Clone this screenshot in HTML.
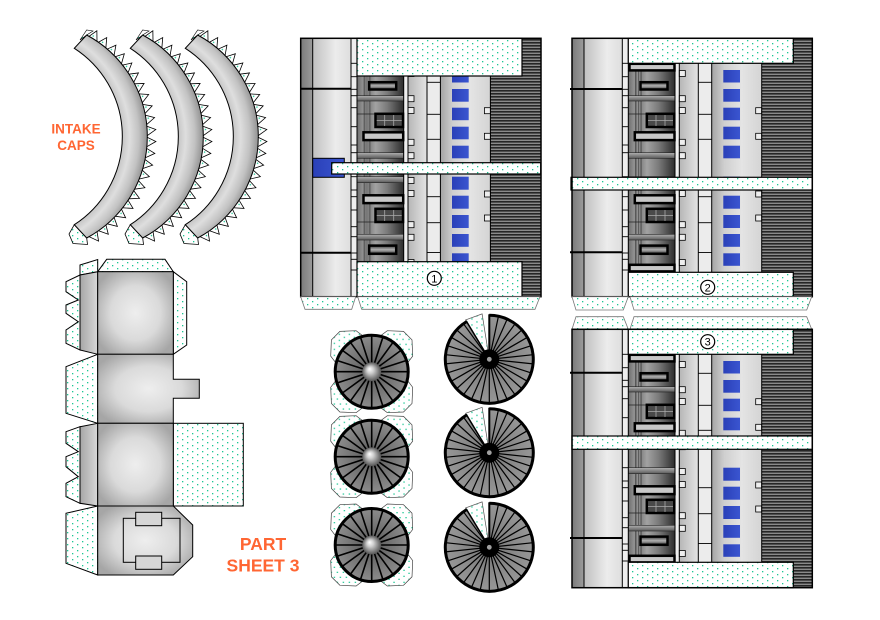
<!DOCTYPE html>
<html><head><meta charset="utf-8"><style>html,body{margin:0;padding:0;background:#fff}svg{display:block}</style></head>
<body>
<svg width="880" height="620" viewBox="0 0 880 620" xmlns="http://www.w3.org/2000/svg" xmlns:xlink="http://www.w3.org/1999/xlink">
<defs>
<pattern id="dt" width="10" height="6" patternUnits="userSpaceOnUse">
<rect width="10" height="6" fill="#fff"/>
<rect x="2" y="1" width="1.3" height="1.3" fill="#1cc794"/>
<rect x="7" y="4" width="1.3" height="1.3" fill="#1cc794"/>
</pattern>
<pattern id="st" width="4" height="3" patternUnits="userSpaceOnUse">
<rect width="4" height="3" fill="#8a8a8a"/><rect width="4" height="1.6" fill="#262626"/>
</pattern>
<linearGradient id="gDark" x1="0" x2="1" y1="0" y2="0"><stop offset="0" stop-color="#7a7a7a"/><stop offset="1" stop-color="#9c9c9c"/></linearGradient>
<linearGradient id="gLight" x1="0" x2="1" y1="0" y2="0"><stop offset="0" stop-color="#c0c0c0"/><stop offset="0.6" stop-color="#ececec"/><stop offset="1" stop-color="#dedede"/></linearGradient>
<linearGradient id="gMech" x1="0" x2="1" y1="0" y2="0"><stop offset="0" stop-color="#6e6e6e"/><stop offset="0.12" stop-color="#909090"/><stop offset="0.3" stop-color="#8a8a8a"/><stop offset="0.4" stop-color="#a2a2a2"/><stop offset="0.65" stop-color="#7a7a7a"/><stop offset="1" stop-color="#2c2c2c"/></linearGradient>
<linearGradient id="gPipe" x1="0" x2="1" y1="0" y2="0"><stop offset="0" stop-color="#4a4a4a"/><stop offset="0.5" stop-color="#a8a8a8"/><stop offset="1" stop-color="#4a4a4a"/></linearGradient>
<linearGradient id="gCol" x1="0" x2="1" y1="0" y2="0"><stop offset="0" stop-color="#b6b6b6"/><stop offset="1" stop-color="#e4e4e4"/></linearGradient>
<linearGradient id="gWide" x1="0" x2="1" y1="0" y2="0"><stop offset="0" stop-color="#a4a4a4"/><stop offset="0.25" stop-color="#cfcfcf"/><stop offset="0.6" stop-color="#e4e4e4"/><stop offset="1" stop-color="#d4d4d4"/></linearGradient>
<linearGradient id="gBar" x1="0" x2="0" y1="0" y2="1"><stop offset="0" stop-color="#b0b0b0"/><stop offset="1" stop-color="#5a5a5a"/></linearGradient>
<linearGradient id="gWin" x1="0" x2="0" y1="0" y2="1"><stop offset="0" stop-color="#3a3a3a"/><stop offset="0.5" stop-color="#b0b0b0"/><stop offset="1" stop-color="#3a3a3a"/></linearGradient>
<linearGradient id="gBlue" x1="0" x2="1" y1="0" y2="0"><stop offset="0" stop-color="#2a40b8"/><stop offset="1" stop-color="#3a55d0"/></linearGradient>
<linearGradient id="gStrip" x1="0" x2="1" y1="0" y2="0"><stop offset="0" stop-color="#a6a6a6"/><stop offset="1" stop-color="#d8d8d8"/></linearGradient>
<radialGradient id="gBox" cx="0.5" cy="0.5" r="0.6"><stop offset="0" stop-color="#eeeeee"/><stop offset="0.55" stop-color="#dadada"/><stop offset="1" stop-color="#a6a6a6"/></radialGradient>
<radialGradient id="gCap" gradientUnits="userSpaceOnUse" cx="17" cy="136.5" r="131"><stop offset="0.8" stop-color="#c4c4c4"/><stop offset="0.86" stop-color="#dedede"/><stop offset="0.93" stop-color="#c2c2c2"/><stop offset="1" stop-color="#8e8e8e"/></radialGradient>
<radialGradient id="gFanL" cx="0.5" cy="0.5" r="0.5"><stop offset="0" stop-color="#3e3e3e"/><stop offset="0.35" stop-color="#6a6a6a"/><stop offset="1" stop-color="#8c8c8c"/></radialGradient>
<radialGradient id="gHub" cx="0.5" cy="0.5" r="0.5" fx="0.38" fy="0.35"><stop offset="0" stop-color="#ffffff"/><stop offset="0.35" stop-color="#d0d0d0"/><stop offset="0.8" stop-color="#7a7a7a"/><stop offset="1" stop-color="#555"/></radialGradient>
<radialGradient id="gFanR" cx="0.5" cy="0.5" r="0.5"><stop offset="0" stop-color="#767676"/><stop offset="1" stop-color="#989898"/></radialGradient>

<g id="cap">
<g transform="translate(32,136.5)" fill="url(#dt)" stroke="#000" stroke-width="0.8">
<polygon points="115,-4.8 124,-1 115,4.8" transform="rotate(-58)"/>
<polygon points="115,-4.8 124,-1 115,4.8" transform="rotate(-52.48)"/>
<polygon points="115,-4.8 124,-1 115,4.8" transform="rotate(-46.95)"/>
<polygon points="115,-4.8 124,-1 115,4.8" transform="rotate(-41.43)"/>
<polygon points="115,-4.8 124,-1 115,4.8" transform="rotate(-35.9)"/>
<polygon points="115,-4.8 124,-1 115,4.8" transform="rotate(-30.38)"/>
<polygon points="115,-4.8 124,-1 115,4.8" transform="rotate(-24.86)"/>
<polygon points="115,-4.8 124,-1 115,4.8" transform="rotate(-19.33)"/>
<polygon points="115,-4.8 124,-1 115,4.8" transform="rotate(-13.81)"/>
<polygon points="115,-4.8 124,-1 115,4.8" transform="rotate(-8.29)"/>
<polygon points="115,-4.8 124,-1 115,4.8" transform="rotate(-2.76)"/>
<polygon points="115,-4.8 124,-1 115,4.8" transform="rotate(2.76)"/>
<polygon points="115,-4.8 124,-1 115,4.8" transform="rotate(8.29)"/>
<polygon points="115,-4.8 124,-1 115,4.8" transform="rotate(13.81)"/>
<polygon points="115,-4.8 124,-1 115,4.8" transform="rotate(19.33)"/>
<polygon points="115,-4.8 124,-1 115,4.8" transform="rotate(24.86)"/>
<polygon points="115,-4.8 124,-1 115,4.8" transform="rotate(30.38)"/>
<polygon points="115,-4.8 124,-1 115,4.8" transform="rotate(35.9)"/>
<polygon points="115,-4.8 124,-1 115,4.8" transform="rotate(41.43)"/>
<polygon points="115,-4.8 124,-1 115,4.8" transform="rotate(46.95)"/>
<polygon points="115,-4.8 124,-1 115,4.8" transform="rotate(52.48)"/>
<polygon points="115,-4.8 124,-1 115,4.8" transform="rotate(58)"/>
</g>
<polygon points="74.3,224.7 69,234 73,243.5 87.5,244.5 86.7,238" fill="url(#dt)" stroke="#000" stroke-width="0.8"/>
<polygon points="80,40 86.7,30 93,31 86.7,35" fill="url(#dt)" stroke="#000" stroke-width="0.6"/>
<path d="M74.3 48.3 A105 105 0 0 1 74.3 224.7 L86.7 238 A115.3 115.3 0 0 0 86.7 35 Z" fill="url(#gCap)" stroke="#000" stroke-width="1"/>
</g>

<g id="body">
<rect x="572" y="38.3" width="12" height="258.4" fill="url(#gDark)"/>
<rect x="584" y="38.3" width="38.3" height="258.4" fill="url(#gLight)"/>
<rect x="622.3" y="38.3" width="6" height="258.4" fill="#eeeeee"/>
<rect x="628.3" y="38.3" width="46.7" height="258.4" fill="url(#gMech)"/>
<rect x="635" y="38.3" width="6.7" height="258.4" fill="url(#gPipe)"/>
<line x1="638.3" y1="38.3" x2="638.3" y2="296.7" stroke="#333" stroke-width="0.6"/>
<rect x="675" y="38.3" width="4.3" height="258.4" fill="#eeeeee"/>
<rect x="679.3" y="38.3" width="19" height="258.4" fill="url(#gCol)"/>
<rect x="698.3" y="38.3" width="13.4" height="258.4" fill="#ececec"/>
<rect x="711.7" y="38.3" width="50" height="258.4" fill="url(#gWide)"/>
<rect x="761.7" y="38.3" width="50.6" height="258.4" fill="url(#st)"/>
<g fill="url(#gBlue)">
<rect x="723.3" y="70" width="16.7" height="12.5"/>
<rect x="723.3" y="89" width="16.7" height="12.7"/>
<rect x="723.3" y="107.7" width="16.7" height="12.5"/>
<rect x="723.3" y="126.7" width="16.7" height="12.6"/>
<rect x="723.3" y="145.7" width="16.7" height="12.6"/>
<rect x="723.3" y="176.7" width="16.7" height="13"/>
<rect x="723.3" y="195.7" width="16.7" height="13"/>
<rect x="723.3" y="215" width="16.7" height="13"/>
<rect x="723.3" y="234" width="16.7" height="12.8"/>
<rect x="723.3" y="253.3" width="16.7" height="12.5"/>
</g>
<g stroke="#222" stroke-width="0.6" fill="url(#gBar)">
<rect x="628.3" y="95.7" width="46.7" height="5.3"/>
<rect x="628.3" y="152.7" width="46.7" height="5.6"/>
<rect x="628.3" y="176.7" width="46.7" height="6"/>
<rect x="628.3" y="234.3" width="46.7" height="5.7"/>
</g>
<line x1="628.3" y1="114" x2="646.5" y2="114" stroke="#222" stroke-width="0.7"/>
<line x1="628.3" y1="222" x2="646.5" y2="222" stroke="#222" stroke-width="0.7"/>
<g stroke="#000" stroke-width="2.5">
<rect x="629.5" y="63.8" width="45" height="6.6" fill="#c8c8c8"/>
<rect x="640.5" y="82.2" width="27" height="7.3" fill="url(#gWin)"/>
<rect x="646.8" y="113.8" width="27.5" height="13.2" fill="#4a4a4a"/>
<rect x="634.8" y="132.3" width="39.7" height="7.8" fill="#c8c8c8"/>
<rect x="634.8" y="195.3" width="39.7" height="7.8" fill="#c8c8c8"/>
<rect x="646.8" y="208.8" width="27.5" height="13.2" fill="#4a4a4a"/>
<rect x="640.5" y="245.6" width="27" height="8.2" fill="url(#gWin)"/>
<rect x="629.5" y="264.8" width="45" height="6.6" fill="#c8c8c8"/>
</g>
<g stroke="#aaa" stroke-width="0.8">
<line x1="656" y1="115" x2="656" y2="126"/><line x1="665" y1="115" x2="665" y2="126"/><line x1="648" y1="120.4" x2="673" y2="120.4"/>
<line x1="656" y1="210" x2="656" y2="221"/><line x1="665" y1="210" x2="665" y2="221"/><line x1="648" y1="215.4" x2="673" y2="215.4"/>
</g>
<g fill="#eeeeee" stroke="#000" stroke-width="0.8">
<rect x="679.3" y="70.5" width="6" height="6"/>
<rect x="679.3" y="95.7" width="6" height="6"/>
<rect x="679.3" y="107.5" width="6" height="6"/>
<rect x="679.3" y="139.3" width="6" height="6"/>
<rect x="679.3" y="152.7" width="6" height="6"/>
<rect x="679.3" y="177.5" width="6" height="6"/>
<rect x="679.3" y="190.5" width="6" height="6"/>
<rect x="679.3" y="221.7" width="6" height="6"/>
<rect x="679.3" y="234.3" width="6" height="6"/>
<rect x="679.3" y="259.5" width="6" height="6"/>
<rect x="755.7" y="107.7" width="6" height="6"/>
<rect x="755.7" y="133.3" width="6" height="6"/>
<rect x="755.7" y="191" width="6" height="6"/>
<rect x="755.7" y="215" width="6" height="6"/>
</g>
<g stroke="#000" stroke-width="0.9">
<line x1="698.3" y1="82.3" x2="711.7" y2="82.3"/>
<line x1="698.3" y1="114.3" x2="711.7" y2="114.3"/>
<line x1="698.3" y1="139.3" x2="711.7" y2="139.3"/>
<line x1="698.3" y1="196.7" x2="711.7" y2="196.7"/>
<line x1="698.3" y1="222.7" x2="711.7" y2="222.7"/>
<line x1="698.3" y1="252.5" x2="711.7" y2="252.5"/>
<line x1="622.3" y1="63.3" x2="628.3" y2="63.3"/>
<line x1="622.3" y1="76.7" x2="628.3" y2="76.7"/>
<line x1="622.3" y1="89.3" x2="628.3" y2="89.3"/>
<line x1="622.3" y1="95.7" x2="628.3" y2="95.7"/>
<line x1="622.3" y1="107.7" x2="628.3" y2="107.7"/>
<line x1="622.3" y1="126.7" x2="628.3" y2="126.7"/>
<line x1="622.3" y1="145" x2="628.3" y2="145"/>
<line x1="622.3" y1="152.7" x2="628.3" y2="152.7"/>
<line x1="622.3" y1="176.7" x2="628.3" y2="176.7"/>
<line x1="622.3" y1="190" x2="628.3" y2="190"/>
<line x1="622.3" y1="196.7" x2="628.3" y2="196.7"/>
<line x1="622.3" y1="210" x2="628.3" y2="210"/>
<line x1="622.3" y1="226.7" x2="628.3" y2="226.7"/>
<line x1="622.3" y1="236.7" x2="628.3" y2="236.7"/>
<line x1="622.3" y1="253" x2="628.3" y2="253"/>
<line x1="622.3" y1="259.3" x2="628.3" y2="259.3"/>
<line x1="622.3" y1="270" x2="628.3" y2="270"/>
</g>
<g stroke="#000" stroke-width="1">
<line x1="584" y1="38.3" x2="584" y2="296.7"/>
<line x1="622.3" y1="38.3" x2="622.3" y2="296.7"/>
<line x1="628.3" y1="38.3" x2="628.3" y2="296.7"/>
<line x1="675" y1="38.3" x2="675" y2="296.7"/>
<line x1="679.3" y1="38.3" x2="679.3" y2="296.7"/>
<line x1="698.3" y1="38.3" x2="698.3" y2="296.7"/>
<line x1="711.7" y1="38.3" x2="711.7" y2="296.7"/>
<line x1="761.7" y1="38.3" x2="761.7" y2="296.7"/>
</g>
</g>

<g id="fanL">
<g fill="url(#dt)" stroke="#444" stroke-width="0.7">
<polygon points="-31.8,-3.5 -41,-15.6 -40.3,-31.8 -31.8,-40.3 -15.6,-41 -3.5,-31.8"/>
<polygon points="-31.8,-3.5 -41,-15.6 -40.3,-31.8 -31.8,-40.3 -15.6,-41 -3.5,-31.8" transform="rotate(90)"/>
<polygon points="-31.8,-3.5 -41,-15.6 -40.3,-31.8 -31.8,-40.3 -15.6,-41 -3.5,-31.8" transform="rotate(180)"/>
<polygon points="-31.8,-3.5 -41,-15.6 -40.3,-31.8 -31.8,-40.3 -15.6,-41 -3.5,-31.8" transform="rotate(270)"/>
</g>
<circle r="36.5" fill="url(#gFanL)"/>
<g stroke="#000" stroke-width="1.6">
<line x1="-36" y1="0" x2="36" y2="0"/>
<line x1="-36" y1="0" x2="36" y2="0" transform="rotate(18)"/>
<line x1="-36" y1="0" x2="36" y2="0" transform="rotate(36)"/>
<line x1="-36" y1="0" x2="36" y2="0" transform="rotate(54)"/>
<line x1="-36" y1="0" x2="36" y2="0" transform="rotate(72)"/>
<line x1="-36" y1="0" x2="36" y2="0" transform="rotate(90)"/>
<line x1="-36" y1="0" x2="36" y2="0" transform="rotate(108)"/>
<line x1="-36" y1="0" x2="36" y2="0" transform="rotate(126)"/>
<line x1="-36" y1="0" x2="36" y2="0" transform="rotate(144)"/>
<line x1="-36" y1="0" x2="36" y2="0" transform="rotate(162)"/>
</g>
<circle r="36.5" fill="none" stroke="#000" stroke-width="3"/>
<circle r="9.5" fill="url(#gHub)"/>
</g>

<g id="fanR">
<polygon points="0,0 -23.7,-39.4 -7.2,-45.4" fill="url(#dt)" stroke="#555" stroke-width="0.7"/>
<path d="M0 0 L0 -45 A45 45 0 1 1 -23.2 -38.6 Z" fill="url(#gFanR)"/>
<g stroke="#000" stroke-width="1.2">
<line x1="0" y1="0" x2="44" y2="0" transform="rotate(-78)"/>
<line x1="0" y1="0" x2="44" y2="0" transform="rotate(-66)"/>
<line x1="0" y1="0" x2="44" y2="0" transform="rotate(-54)"/>
<line x1="0" y1="0" x2="44" y2="0" transform="rotate(-42)"/>
<line x1="0" y1="0" x2="44" y2="0" transform="rotate(-30)"/>
<line x1="0" y1="0" x2="44" y2="0" transform="rotate(-18)"/>
<line x1="0" y1="0" x2="44" y2="0" transform="rotate(-6)"/>
<line x1="0" y1="0" x2="44" y2="0" transform="rotate(6)"/>
<line x1="0" y1="0" x2="44" y2="0" transform="rotate(18)"/>
<line x1="0" y1="0" x2="44" y2="0" transform="rotate(30)"/>
<line x1="0" y1="0" x2="44" y2="0" transform="rotate(42)"/>
<line x1="0" y1="0" x2="44" y2="0" transform="rotate(54)"/>
<line x1="0" y1="0" x2="44" y2="0" transform="rotate(66)"/>
<line x1="0" y1="0" x2="44" y2="0" transform="rotate(78)"/>
<line x1="0" y1="0" x2="44" y2="0" transform="rotate(90)"/>
<line x1="0" y1="0" x2="44" y2="0" transform="rotate(102)"/>
<line x1="0" y1="0" x2="44" y2="0" transform="rotate(114)"/>
<line x1="0" y1="0" x2="44" y2="0" transform="rotate(126)"/>
<line x1="0" y1="0" x2="44" y2="0" transform="rotate(138)"/>
<line x1="0" y1="0" x2="44" y2="0" transform="rotate(150)"/>
<line x1="0" y1="0" x2="44" y2="0" transform="rotate(162)"/>
<line x1="0" y1="0" x2="44" y2="0" transform="rotate(174)"/>
<line x1="0" y1="0" x2="44" y2="0" transform="rotate(186)"/>
<line x1="0" y1="0" x2="44" y2="0" transform="rotate(198)"/>
<line x1="0" y1="0" x2="44" y2="0" transform="rotate(210)"/>
<line x1="0" y1="0" x2="44" y2="0" transform="rotate(222)"/>
<line x1="0" y1="0" x2="44" y2="0" transform="rotate(234)"/>
</g>
<line x1="0" y1="0" x2="0" y2="-45" stroke="#000" stroke-width="2"/>
<line x1="0" y1="0" x2="-23.2" y2="-38.6" stroke="#000" stroke-width="1.5"/>
<path d="M0 -44 A44 44 0 1 1 -22.7 -37.7" fill="none" stroke="#000" stroke-width="3"/>
<circle r="10" fill="#000"/>
<circle r="2.4" fill="#a0a0a0"/>
</g>
</defs>

<rect width="880" height="620" fill="#fff"/>

<use xlink:href="#cap" href="#cap"/>
<use xlink:href="#cap" href="#cap" x="56"/>
<use xlink:href="#cap" href="#cap" x="111"/>
<text x="76" y="133.3" text-anchor="middle" font-family="'Liberation Sans', sans-serif" font-weight="bold" font-size="13.5" fill="#ff6633">INTAKE</text>
<text x="76" y="150" text-anchor="middle" font-family="'Liberation Sans', sans-serif" font-weight="bold" font-size="13.5" fill="#ff6633">CAPS</text>

<g stroke="#000" stroke-width="1">
<polygon points="97.7,271.7 106.7,259.3 165,259.3 173.3,271.7" fill="url(#dt)"/>
<polygon points="80,265 97.7,259.5 97.7,271.7 80,275" fill="url(#dt)"/>
<polygon points="173.3,271.7 186.7,281.7 186.7,345 173.3,354.3" fill="url(#dt)"/>
<polygon points="80,275 66,281.7 66,291.7 78.3,300 66,305 66,313.3 78.3,321.7 66,330 66,343.3 80,350" fill="url(#dt)"/>
<polygon points="80,275 97.7,271.7 97.7,354.3 80,350" fill="url(#gStrip)"/>
<polygon points="97.7,354.3 66,366.7 66,413.3 97.7,423.3" fill="url(#dt)"/>
<polygon points="80,426.7 66,431.7 66,443.3 78.3,451.7 66,456.7 66,466.7 78.3,476.7 66,483.3 66,496.7 80,503.3" fill="url(#dt)"/>
<polygon points="80,426.7 97.7,423.3 97.7,506 80,503.3" fill="url(#gStrip)"/>
<polygon points="97.7,506 66,513.3 66,563.3 97.7,575" fill="url(#dt)"/>
<rect x="173.3" y="423.3" width="70" height="82.7" fill="url(#dt)"/>
<rect x="97.7" y="271.7" width="75.6" height="82.6" fill="url(#gBox)"/>
<polygon points="97.7,354.3 173.3,354.3 173.3,379.3 199.3,379.3 199.3,398.3 173.3,398.3 173.3,423.3 97.7,423.3" fill="url(#gBox)"/>
<rect x="97.7" y="423.3" width="75.6" height="82.7" fill="url(#gBox)"/>
<polygon points="97.7,506 173.3,506 192.7,525 192.7,556.7 173.3,575 97.7,575" fill="url(#gBox)"/>
<rect x="123.3" y="518.3" width="56.7" height="44" fill="none"/>
<rect x="135.7" y="512.3" width="26" height="13.4" fill="#d6d6d6"/>
<rect x="135.7" y="556" width="26" height="13.3" fill="#d6d6d6"/>
</g>
<text x="263" y="550" text-anchor="middle" font-family="'Liberation Sans', sans-serif" font-weight="bold" font-size="17.5" fill="#ff6633">PART</text>
<text x="263" y="571.7" text-anchor="middle" font-family="'Liberation Sans', sans-serif" font-weight="bold" font-size="17.5" fill="#ff6633">SHEET 3</text>

<use xlink:href="#body" href="#body" x="-271.3"/>
<rect x="312.7" y="158.3" width="31.6" height="19" fill="url(#gBlue)" stroke="#000" stroke-width="1"/>
<g stroke="#000" stroke-width="1.2" fill="url(#dt)">
<rect x="331.7" y="162.7" width="209" height="11.3"/>
<rect x="357" y="38.3" width="165" height="37.7"/>
<rect x="357" y="261.7" width="165" height="35"/>
</g>
<rect x="300.7" y="38.3" width="240.3" height="258.4" fill="none" stroke="#000" stroke-width="1.5"/>
<g stroke="#000" stroke-width="2">
<line x1="300.7" y1="88.7" x2="351" y2="88.7"/>
<line x1="300.7" y1="252.7" x2="351" y2="252.7"/>
</g>
<circle cx="434.3" cy="278.3" r="7" fill="#fff" stroke="#000" stroke-width="1.2"/>
<text x="434.3" y="282.3" text-anchor="middle" font-family="'Liberation Sans', sans-serif" font-size="11" fill="#000">1</text>
<g fill="url(#dt)" stroke="#777" stroke-width="0.8">
<polygon points="300.7,296.7 305,309.3 351.7,309.3 355.7,296.7"/>
<polygon points="357.7,296.7 361.7,309.3 535,309.3 540,296.7"/>
</g>

<use xlink:href="#body" href="#body"/>
<g stroke="#000" stroke-width="1.2" fill="url(#dt)">
<rect x="571" y="177.3" width="241.3" height="12.7"/>
<rect x="628.3" y="38.3" width="165" height="25"/>
<rect x="628.3" y="272.3" width="165" height="24.4"/>
</g>
<rect x="572" y="38.3" width="240.3" height="258.4" fill="none" stroke="#000" stroke-width="1.5"/>
<g stroke="#000" stroke-width="2">
<line x1="570" y1="89" x2="622.3" y2="89"/>
<line x1="570" y1="252.3" x2="622.3" y2="252.3"/>
</g>
<circle cx="707.7" cy="287.3" r="7" fill="#fff" stroke="#000" stroke-width="1.2"/>
<text x="707.7" y="291.3" text-anchor="middle" font-family="'Liberation Sans', sans-serif" font-size="11" fill="#000">2</text>
<g fill="url(#dt)" stroke="#777" stroke-width="0.8">
<polygon points="572,296.7 576,310 623.3,310 628.3,296.7"/>
<polygon points="630,296.7 634,310 806.7,310 811.7,296.7"/>
<polygon points="572,329.3 576,316.7 623.3,316.7 628.3,329.3"/>
<polygon points="630,329.3 634,316.7 806.7,316.7 811.7,329.3"/>
</g>

<use xlink:href="#body" href="#body" y="291"/>
<g stroke="#000" stroke-width="1.2" fill="url(#dt)">
<rect x="572" y="436" width="240.3" height="13.3"/>
<rect x="628.3" y="329.3" width="165" height="25"/>
<rect x="628.3" y="562.3" width="165" height="25.4"/>
</g>
<rect x="572" y="329.3" width="240.3" height="258.4" fill="none" stroke="#000" stroke-width="1.5"/>
<g stroke="#000" stroke-width="2">
<line x1="570" y1="372.7" x2="622.3" y2="372.7"/>
<line x1="570" y1="538" x2="622.3" y2="538"/>
</g>
<circle cx="707.7" cy="341.7" r="7" fill="#fff" stroke="#000" stroke-width="1.2"/>
<text x="707.7" y="345.7" text-anchor="middle" font-family="'Liberation Sans', sans-serif" font-size="11" fill="#000">3</text>

<use xlink:href="#fanL" href="#fanL" x="371.7" y="371.7"/>
<use xlink:href="#fanL" href="#fanL" x="371.7" y="456.7"/>
<use xlink:href="#fanL" href="#fanL" x="371.7" y="545"/>
<use xlink:href="#fanR" href="#fanR" x="489.3" y="359.3"/>
<use xlink:href="#fanR" href="#fanR" x="489.3" y="452.7"/>
<use xlink:href="#fanR" href="#fanR" x="489.3" y="547.3"/>
</svg>
</body></html>
